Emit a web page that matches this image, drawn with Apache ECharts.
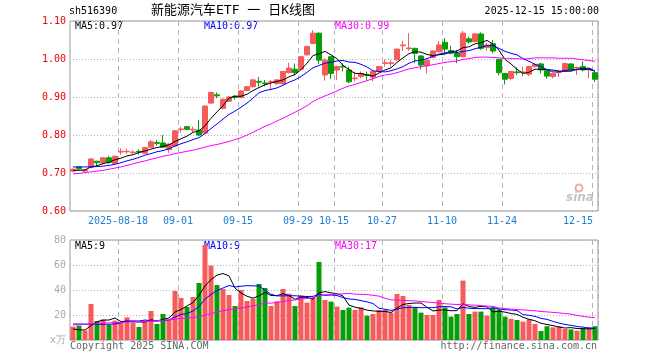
<!DOCTYPE html>
<html><head><meta charset="utf-8">
<script src="https://cdn.jsdelivr.net/npm/echarts@6/dist/echarts.min.js"></script>
<style>html,body{margin:0;padding:0;background:#fff}#c{width:660px;height:360px}</style>
</head><body><div id="c"></div>
<script>
const dates = [
 '2025-08-06','2025-08-07','2025-08-08','2025-08-11','2025-08-12','2025-08-13','2025-08-14','2025-08-15',
 '2025-08-18','2025-08-19','2025-08-20','2025-08-21','2025-08-22','2025-08-25','2025-08-26','2025-08-27','2025-08-28','2025-08-29',
 '2025-09-01','2025-09-02','2025-09-03','2025-09-04','2025-09-05','2025-09-08','2025-09-09','2025-09-10','2025-09-11','2025-09-12',
 '2025-09-15','2025-09-16','2025-09-17','2025-09-18','2025-09-19','2025-09-22','2025-09-23','2025-09-24','2025-09-25','2025-09-26',
 '2025-09-29','2025-09-30','2025-10-09','2025-10-10','2025-10-13','2025-10-14',
 '2025-10-15','2025-10-16','2025-10-17','2025-10-20','2025-10-21','2025-10-22','2025-10-23','2025-10-24',
 '2025-10-27','2025-10-28','2025-10-29','2025-10-30','2025-10-31','2025-11-03','2025-11-04','2025-11-05','2025-11-06','2025-11-07',
 '2025-11-10','2025-11-11','2025-11-12','2025-11-13','2025-11-14','2025-11-17','2025-11-18','2025-11-19','2025-11-20','2025-11-21',
 '2025-11-24','2025-11-25','2025-11-26','2025-11-27','2025-11-28','2025-12-01','2025-12-02','2025-12-03','2025-12-04','2025-12-05',
 '2025-12-08','2025-12-09','2025-12-10','2025-12-11','2025-12-12','2025-12-15'];
const labelDates = ['2025-08-18','2025-09-01','2025-09-15','2025-09-29','2025-10-15','2025-10-27','2025-11-10','2025-11-24','2025-12-15'];

const open = [0.705,0.716,0.705,0.715,0.731,0.727,0.740,0.725,0.755,0.756,
 0.754,0.757,0.752,0.768,0.780,0.779,0.762,0.771,0.814,0.822,
 0.813,0.813,0.805,0.884,0.906,0.870,0.889,0.902,0.899,0.917,
 0.927,0.941,0.937,0.939,0.935,0.935,0.964,0.973,0.973,1.011,
 1.041,1.068,0.958,1.006,0.971,0.981,0.971,0.948,0.954,0.959,
 0.952,0.967,0.988,0.988,0.998,1.035,1.027,1.028,1.008,0.982,
 1.004,1.019,1.044,1.022,1.015,1.006,1.053,1.046,1.066,1.030,
 1.040,0.999,0.962,0.949,0.966,0.964,0.960,0.980,0.987,0.969,
 0.954,0.964,0.968,0.987,0.976,0.980,0.972,0.964];
const close = [0.710,0.711,0.708,0.737,0.727,0.740,0.728,0.744,0.757,0.757,
 0.755,0.755,0.767,0.782,0.778,0.768,0.776,0.811,0.816,0.815,
 0.815,0.800,0.876,0.912,0.903,0.894,0.900,0.899,0.916,0.927,
 0.945,0.939,0.935,0.941,0.945,0.967,0.976,0.964,1.006,1.033,
 1.068,0.997,0.997,0.962,0.980,0.979,0.940,0.950,0.962,0.957,
 0.967,0.980,0.990,0.990,1.026,1.037,1.029,1.015,0.984,0.997,
 1.021,1.037,1.026,1.015,1.006,1.068,1.045,1.066,1.028,1.037,
 1.021,0.964,0.947,0.967,0.964,0.966,0.980,0.986,0.971,0.955,
 0.962,0.966,0.988,0.971,0.978,0.971,0.974,0.947];
const low = [0.702,0.708,0.703,0.713,0.718,0.722,0.724,0.722,0.748,0.750,
 0.749,0.748,0.750,0.766,0.772,0.766,0.753,0.770,0.806,0.813,
 0.806,0.797,0.803,0.882,0.897,0.868,0.887,0.893,0.897,0.915,
 0.925,0.927,0.928,0.918,0.932,0.933,0.962,0.957,0.971,1.009,
 1.039,0.987,0.943,0.947,0.945,0.967,0.936,0.941,0.949,0.945,
 0.941,0.965,0.980,0.980,0.996,1.021,1.022,0.989,0.972,0.962,
 1.002,1.017,1.013,1.012,0.989,1.004,1.040,1.044,1.024,1.022,
 1.015,0.957,0.933,0.944,0.958,0.955,0.955,0.978,0.962,0.948,
 0.949,0.953,0.966,0.969,0.958,0.968,0.949,0.940];
const high = [0.712,0.718,0.710,0.739,0.732,0.742,0.745,0.746,0.765,0.764,
 0.760,0.762,0.769,0.787,0.787,0.800,0.778,0.813,0.822,0.824,
 0.822,0.840,0.878,0.914,0.912,0.896,0.903,0.905,0.918,0.929,
 0.948,0.953,0.945,0.945,0.947,0.969,0.990,0.988,1.008,1.035,
 1.076,1.070,1.002,1.008,0.982,0.989,0.980,0.967,0.967,0.967,
 0.969,0.982,0.999,0.997,1.028,1.048,1.068,1.030,1.010,0.999,
 1.023,1.047,1.055,1.035,1.024,1.074,1.059,1.068,1.070,1.043,
 1.050,1.000,0.963,0.969,0.978,0.980,0.982,0.988,0.990,0.970,
 0.964,0.972,0.990,0.989,0.980,0.994,0.976,0.966];

const ma5 = [0.707,0.707,0.708,0.716,0.719,0.725,0.728,0.735,0.739,0.745,
 0.748,0.754,0.758,0.763,0.767,0.770,0.774,0.783,0.790,0.797,
 0.807,0.811,0.824,0.844,0.861,0.877,0.897,0.902,0.902,0.907,
 0.917,0.925,0.932,0.937,0.941,0.945,0.953,0.959,0.972,0.989,
 1.009,1.014,1.020,1.011,1.001,0.983,0.972,0.962,0.962,0.958,
 0.955,0.963,0.971,0.977,0.991,1.003,1.014,1.019,1.018,1.012,
 1.009,1.011,1.013,1.019,1.021,1.030,1.032,1.040,1.043,1.049,
 1.039,1.023,0.999,0.987,0.973,0.962,0.965,0.973,0.973,0.972,
 0.971,0.968,0.968,0.968,0.973,0.975,0.976,0.968];
const ma10 = [0.716,0.716,0.716,0.716,0.717,0.718,0.720,0.723,0.727,0.732,
 0.736,0.741,0.747,0.751,0.756,0.759,0.764,0.771,0.777,0.782,
 0.788,0.793,0.804,0.817,0.829,0.842,0.854,0.863,0.873,0.884,
 0.897,0.911,0.917,0.920,0.924,0.931,0.939,0.945,0.954,0.965,
 0.977,0.983,0.989,0.991,0.995,0.996,0.992,0.991,0.986,0.979,
 0.969,0.967,0.966,0.969,0.974,0.980,0.989,0.995,0.997,1.001,
 1.007,1.013,1.016,1.019,1.017,1.020,1.022,1.027,1.031,1.035,
 1.035,1.028,1.020,1.015,1.011,1.001,0.994,0.986,0.980,0.972,
 0.966,0.966,0.970,0.971,0.972,0.973,0.972,0.968];
const ma30 = [0.698,0.699,0.701,0.703,0.705,0.707,0.710,0.713,0.716,0.720,
 0.724,0.728,0.732,0.736,0.740,0.744,0.747,0.751,0.754,0.757,
 0.760,0.764,0.768,0.772,0.775,0.779,0.783,0.788,0.793,0.800,
 0.807,0.815,0.823,0.829,0.837,0.844,0.852,0.860,0.868,0.877,
 0.888,0.896,0.903,0.909,0.916,0.923,0.929,0.933,0.938,0.943,
 0.948,0.954,0.958,0.960,0.964,0.969,0.974,0.977,0.980,0.982,
 0.985,0.988,0.991,0.993,0.995,0.999,1.001,1.004,1.005,1.005,
 1.004,1.003,1.001,1.001,1.001,1.000,1.001,1.003,1.003,1.003,
 1.003,1.002,1.002,1.002,1.000,0.998,0.996,0.994];

const volume = [10.7,11.5,7.5,28.8,15.2,16.5,12,15.5,14.1,18.1,
 13.9,10.4,15.5,23.2,12.8,20.8,16,39.2,33.6,26.4,
 34.4,45.6,76,59.5,44,40.8,36,27.2,40,31.2,
 33.1,44.8,41.6,27.2,31,40.8,37,27.2,35.7,29.9,
 33.6,62.4,32,30.7,26.7,24,25.9,24,26.1,19.5,
 20.8,24,24,21.9,36.8,35.2,28,26.1,21.9,20,
 20,32,26.1,18.7,20.8,47.5,20.8,22.7,22.7,19.5,
 26.1,24.5,18.7,17,16,14.7,16.5,12.8,7.2,11,
 10.1,11,8.8,8.5,7.5,9.5,10,11];
const volMa5 = [8.8,8.2,8.0,11.5,14.7,15.9,16.0,17.6,14.7,15.2,
 14.7,14.4,14.4,16.2,15.2,16.5,17.7,22.4,24.5,27.2,
 29.9,35.8,43.2,48.4,51.9,53.2,51.3,41.5,37.6,35.0,
 33.5,35.3,38.1,35.6,35.5,37.1,35.5,32.6,34.3,34.1,
 32.7,37.8,38.7,37.7,37.1,35.2,27.9,26.3,25.3,23.9,
 23.3,22.9,22.9,22.0,25.5,28.4,29.2,29.6,29.6,26.2,
 23.2,24.0,24.0,23.4,23.5,29.0,26.8,26.1,26.9,26.6,
 22.4,23.1,22.3,21.2,20.5,18.2,16.6,15.4,13.4,12.4,
 11.5,10.4,9.6,9.9,9.2,9.1,8.9,9.3];
const volMa10 = [12.8,12.8,12.7,12.7,12.6,12.6,12.6,12.9,13.8,15.0,
 15.3,15.2,16.0,15.4,15.2,15.6,16.0,18.4,20.4,21.2,
 23.2,26.8,32.8,36.4,39.6,41.6,43.6,42.4,43.0,43.5,
 43.3,43.3,39.8,36.6,35.3,35.3,35.4,35.4,35.0,34.8,
 34.9,36.6,35.7,36.0,35.6,33.9,32.8,32.5,31.5,30.5,
 29.2,25.4,24.6,23.7,24.7,25.8,26.0,26.2,25.8,25.9,
 25.8,26.6,26.8,26.5,24.9,26.1,25.4,25.1,25.1,25.1,
 25.7,24.9,24.2,24.0,23.6,20.3,19.8,18.9,17.3,16.5,
 14.9,13.5,12.5,11.7,10.8,10.3,9.6,9.5];
const volMa30 = [12.0,12.3,12.6,12.9,13.2,13.5,13.7,13.9,14.1,14.3,
 14.5,14.7,14.9,15.2,15.5,15.8,16.2,16.7,17.2,17.6,
 18.0,18.5,20.0,21.2,22.4,23.4,24.3,25.0,25.7,26.5,
 27.3,28.4,29.5,29.5,30.0,30.8,31.7,32.0,32.8,33.2,
 33.8,35.6,36.1,36.4,36.8,36.9,37.3,36.7,36.5,36.3,
 35.8,35.1,33.4,32.1,31.9,31.7,31.4,31.4,30.8,30.4,
 30.0,29.5,29.0,28.7,28.4,28.6,28.1,27.9,27.5,27.1,
 26.9,25.6,25.2,24.7,24.4,24.1,23.8,23.4,22.8,22.5,
 22.1,21.7,21.2,20.7,19.7,18.9,18.3,17.8];

const priceTicks = {min: 0.6, max: 1.1, step: 0.1};
const volTicks = {min: 0, max: 80, step: 20};
const maLabels = {price: ['MA5:0.97', 'MA10:0.97', 'MA30:0.99'], vol: ['MA5:9', 'MA10:9', 'MA30:17']};

const RED = '#f65a5a', GREEN = '#079d07';
const MONO = '"DejaVu Sans Mono","Liberation Mono",monospace';
const GRID_LINE = '#b4b4b4';
const isTick = (i) => labelDates.indexOf(dates[i]) >= 0;

const chart = echarts.init(document.getElementById('c'), null, {renderer: 'canvas'});
const kData = dates.map((d, i) => [open[i], close[i], low[i], high[i]]);
const vData = volume.map((v, i) => ({value: v, itemStyle: {color: close[i] >= open[i] ? RED : GREEN}}));

const lineS = (name, data, color, xi) => ({
  name, type: 'line', data, xAxisIndex: xi, yAxisIndex: xi, showSymbol: false, symbol: 'none',
  lineStyle: {width: 1, color}, itemStyle: {color}, silent: true, z: 5
});
const txt = (o) => ({type: 'text', silent: true, style: Object.assign({font: '10px ' + MONO, fill: '#000'}, o.style), left: o.left, right: o.right, top: o.top});

chart.setOption({
  animation: false,
  backgroundColor: '#fff',
  grid: [
    {left: 70, top: 21, width: 528, height: 190, show: true, borderColor: '#999', borderWidth: 1, backgroundColor: 'transparent', outerBoundsMode: 'none'},
    {left: 70, top: 240, width: 528, height: 100, show: true, borderColor: '#999', borderWidth: 1, backgroundColor: 'transparent', outerBoundsMode: 'none'}
  ],
  xAxis: [
    {type: 'category', gridIndex: 0, data: dates, boundaryGap: true,
      axisLine: {show: false}, axisTick: {show: false},
      axisLabel: {interval: (i) => isTick(i), margin: 5, color: '#1c7ed6', fontFamily: MONO, fontSize: 10,
        formatter: (v, i) => {
          if (v === labelDates[0]) return '{a|' + v + '}';
          if (v === labelDates[labelDates.length - 1]) return '{e|' + v.slice(5) + '}';
          return '{a|' + v.slice(5) + '}';
        },
        rich: {a: {padding: [0, 6, 0, 0], color: '#1c7ed6', fontFamily: MONO, fontSize: 10},
               e: {padding: [0, 34, 0, 0], color: '#1c7ed6', fontFamily: MONO, fontSize: 10}}},
      splitLine: {show: true, interval: (i) => isTick(i), lineStyle: {color: GRID_LINE, type: [5, 4], width: 1}}},
    {type: 'category', gridIndex: 1, data: dates, boundaryGap: true,
      axisLine: {show: false}, axisTick: {show: false}, axisLabel: {show: false},
      splitLine: {show: true, interval: (i) => isTick(i), lineStyle: {color: GRID_LINE, type: [5, 4], width: 1}}}
  ],
  yAxis: [
    {type: 'value', gridIndex: 0, min: priceTicks.min, max: priceTicks.max, interval: priceTicks.step, scale: true,
      axisLine: {show: false}, axisTick: {show: false},
      axisLabel: {color: '#ee0000', fontFamily: MONO, fontSize: 10, margin: 4, formatter: (v) => v.toFixed(2)},
      splitLine: {show: true, lineStyle: {color: GRID_LINE, type: [1, 2], width: 1}}},
    {type: 'value', gridIndex: 1, min: volTicks.min, max: volTicks.max, interval: volTicks.step,
      axisLine: {show: false}, axisTick: {show: false},
      axisLabel: {color: '#aaaaaa', fontFamily: MONO, fontSize: 10, margin: 4, formatter: (v) => v === 0 ? 'x万' : String(v)},
      splitLine: {show: true, lineStyle: {color: GRID_LINE, type: [1, 2], width: 1}}}
  ],
  series: [
    {name: 'K', type: 'candlestick', data: kData, xAxisIndex: 0, yAxisIndex: 0, barWidth: 5, silent: true,
      itemStyle: {color: RED, color0: GREEN, borderColor: RED, borderColor0: GREEN, borderWidth: 1}},
    lineS('MA5', ma5, '#000000', 0),
    lineS('MA10', ma10, '#0000ff', 0),
    lineS('MA30', ma30, '#ff00ff', 0),
    {name: 'VOL', type: 'bar', data: vData, xAxisIndex: 1, yAxisIndex: 1, barWidth: 5, silent: true},
    lineS('VMA5', volMa5, '#000000', 1),
    lineS('VMA10', volMa10, '#0000ff', 1),
    lineS('VMA30', volMa30, '#ff00ff', 1)
  ],
  graphic: [
    txt({left: 69, top: 6, style: {text: 'sh516390'}}),
    txt({left: 151, top: 4, style: {text: '新能源汽车ETF 一 日K线图', font: '13px "DejaVu Sans Mono","Noto Sans CJK SC",monospace'}}),
    txt({right: 61, top: 6, style: {text: '2025-12-15 15:00:00'}}),
    txt({left: 75, top: 21, style: {text: maLabels.price[0], fill: '#000'}}),
    txt({left: 204, top: 21, style: {text: maLabels.price[1], fill: '#0000ff'}}),
    txt({left: 335, top: 21, style: {text: maLabels.price[2], fill: '#ff00ff'}}),
    txt({left: 75, top: 241, style: {text: maLabels.vol[0], fill: '#000'}}),
    txt({left: 204, top: 241, style: {text: maLabels.vol[1], fill: '#0000ff'}}),
    txt({left: 335, top: 241, style: {text: maLabels.vol[2], fill: '#ff00ff'}}),
    txt({left: 70, top: 341, style: {text: 'Copyright 2025 SINA.COM', fill: '#666'}}),
    txt({right: 63, top: 341, style: {text: 'http://finance.sina.com.cn', fill: '#666'}}),
    {type: 'circle', silent: true, shape: {cx: 579, cy: 188, r: 3.5}, style: {fill: 'none', stroke: '#f4a8a8', lineWidth: 2}},
    txt({left: 566, top: 192, style: {text: 'sina', font: 'italic bold 12px "DejaVu Sans",sans-serif', fill: '#c4c4c4'}})
  ]
});
</script>
</body></html>
